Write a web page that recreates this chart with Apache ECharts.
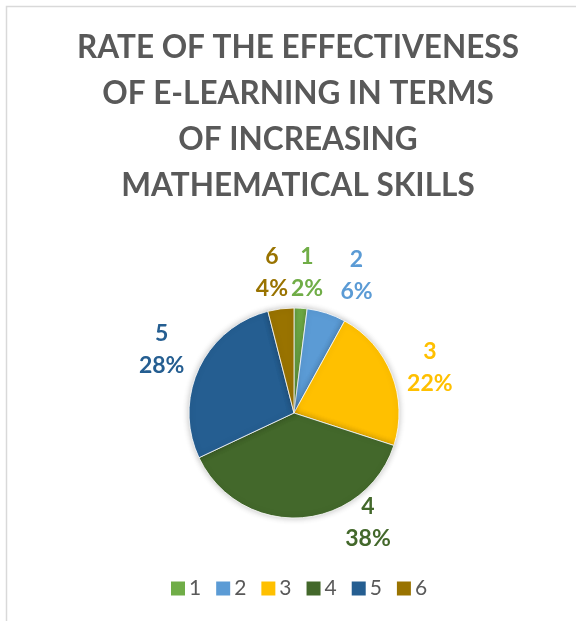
<!DOCTYPE html>
<html>
<head>
<meta charset="utf-8">
<script src="https://cdn.jsdelivr.net/npm/echarts@6/dist/echarts.min.js"></script>
<style>
html,body{margin:0;padding:0;background:#fff;}
#chart{width:576px;height:621px;}
</style>
</head>
<body>
<div id="chart"></div>
<script>
const titleLines = ['RATE OF THE EFFECTIVENESS', 'OF E-LEARNING IN TERMS', 'OF INCREASING', 'MATHEMATICAL SKILLS'];
const categories = ['1', '2', '3', '4', '5', '6'];
const values = [2, 6, 22, 38, 28, 4];
const colors = ['#70AD47', '#5B9BD5', '#FFC000', '#43682B', '#255E91', '#997300'];

const CX = 294, CY = 413, R = 105, LABEL_R = 144;
const total = values.reduce((a, b) => a + b, 0);
const labelNudge = [[4, 3], [18, 0], [2, 8], [65, -34], [-2, -2], [-4, 2]];

const chart = echarts.init(document.getElementById('chart'));
chart.setOption({
  animation: false,
  backgroundColor: '#ffffff',
  graphic: [
    {
      type: 'rect', silent: true,
      shape: {x: 6.5, y: 6.5, width: 700, height: 700},
      style: {fill: 'none', stroke: '#d9d9d9', lineWidth: 1.5}
    },
    {
      type: 'text', x: 298, y: 25, silent: true,
      style: {
        text: titleLines.join('\n'),
        fill: '#595959',
        font: 'bold 31.5px Lato',
        lineHeight: 46,
        align: 'center',
        verticalAlign: 'top'
      }
    }
  ],
  color: colors,
  legend: {
    data: categories,
    left: 171,
    top: 578,
    padding: 0,
    icon: 'rect',
    itemWidth: 14,
    itemHeight: 14,
    itemGap: 15,
    itemStyle: {borderWidth: 0, shadowBlur: 0},
    textStyle: {color: '#595959', fontSize: 21, fontFamily: 'Lato', padding: [0, 0, 0, -1]}
  },
  series: [{
    type: 'pie',
    center: [CX, CY],
    radius: [0, R],
    startAngle: 90,
    clockwise: true,
    avoidLabelOverlap: false,
    data: categories.map((c, i) => ({name: c, value: values[i]})),
    itemStyle: {
      borderColor: '#ffffff',
      borderWidth: 0.8,
      shadowBlur: 6,
      shadowColor: 'rgba(0,0,0,0.25)'
    },
    label: {
      show: true,
      position: 'outside',
      formatter: p => p.name + '\n' + Math.round(p.percent) + '%',
      color: 'inherit',
      fontFamily: 'Lato',
      fontWeight: 'bold',
      fontSize: 23,
      lineHeight: 32,
      align: 'center'
    },
    labelLine: {show: false},
    labelLayout: function (params) {
      const i = params.dataIndex;
      let before = 0;
      for (let k = 0; k < i; k++) before += values[k];
      const mid = (before + values[i] / 2) / total * 2 * Math.PI;
      const n = labelNudge[i];
      return {
        x: CX + LABEL_R * Math.sin(mid) + n[0],
        y: CY - LABEL_R * Math.cos(mid) + n[1],
        align: 'center',
        verticalAlign: 'middle'
      };
    }
  }]
});
</script>
</body>
</html>
